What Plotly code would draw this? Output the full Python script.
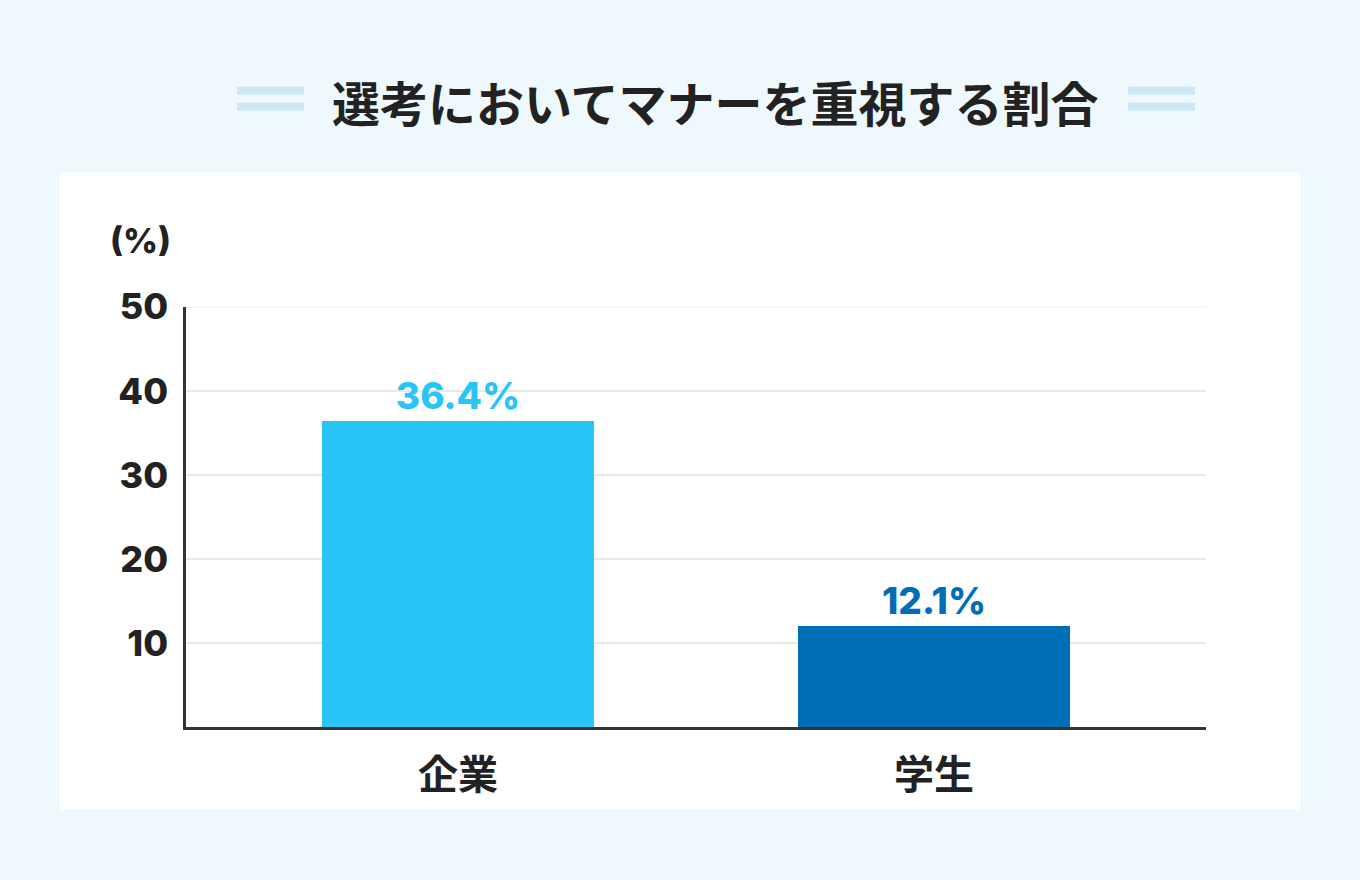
import plotly.graph_objects as go

# data
categories = ["企業", "学生"]
values = [36.4, 12.1]
bar_colors = ["#29c5f6", "#006db7"]
y_ticks = [10, 20, 30, 40, 50]
title_text = "選考においてマナーを重視する割合"

W, H = 1360, 880
BG = "#eff8fc"
DARK = "#222222"
GRID = "#e8e8e8"
NUM_FONT = "Inter, 'Noto Sans CJK JP', sans-serif"
JP_FONT = "'Noto Sans CJK JP', sans-serif"

# the page comes out a little squashed vertically (about 19px down, 0.979 tall),
# so positions are corrected for that here
Y_OFF, Y_SCALE = 19, 0.979


def px_x(x):
    return x / W


def px_y(y):
    return 1 - ((y - Y_OFF) / Y_SCALE) / H


fig = go.Figure()

fig.add_trace(go.Bar(
    x=categories,
    y=values,
    width=0.571,
    marker=dict(color=bar_colors, line=dict(width=0)),
    text=[f"{v}%" for v in values],
    textposition="outside",
    textfont=dict(family=NUM_FONT, size=37, color=bar_colors, weight=800),
    cliponaxis=False,
    hoverinfo="skip",
))

# white card behind the chart
card = dict(type="rect", xref="paper", yref="paper",
            x0=px_x(60), x1=px_x(1300), y0=px_y(810), y1=px_y(170),
            fillcolor="white", line=dict(width=0), layer="below")

# top gridline (plotly hides the one sitting on the range edge)
top_grid = dict(type="line", xref="x domain", yref="y",
                x0=0, x1=1, y0=y_ticks[-1], y1=y_ticks[-1],
                line=dict(color=GRID, width=1.5), layer="below")

# double lines next to the title
deco = []
for xa, xb in [(237, 304), (1128, 1195)]:
    for yy in [88, 104]:
        deco.append(dict(type="line", xref="paper", yref="paper",
                         x0=px_x(xa), x1=px_x(xb), y0=px_y(yy), y1=px_y(yy),
                         line=dict(color="#cce7f5", width=8)))

fig.update_layout(
    width=W, height=H,
    margin=dict(l=0, r=0, t=0, b=0),
    paper_bgcolor=BG,
    plot_bgcolor="white",
    showlegend=False,
    bargap=0,
    xaxis=dict(
        domain=[px_x(186), px_x(1206)],
        range=[-0.571, 1.571],
        showline=True, linecolor="#333333", linewidth=2.5,
        showgrid=False, ticks="",
        tickfont=dict(family=JP_FONT, size=40, color=DARK, weight="bold"),
        ticklabelstandoff=11,
        fixedrange=True,
    ),
    yaxis=dict(
        domain=[px_y(727), px_y(305)],
        range=[0, 50],
        tickvals=y_ticks,
        showline=True, linecolor="#333333", linewidth=2.5,
        showgrid=True, gridcolor=GRID, gridwidth=1.5,
        zeroline=False, ticks="",
        tickfont=dict(family=NUM_FONT, size=36, color=DARK, weight=800),
        ticklabelstandoff=8,
        fixedrange=True,
    ),
    shapes=[card, top_grid] + deco,
    annotations=[
        dict(text=title_text, xref="paper", yref="paper",
             x=px_x(715), y=px_y(98), xanchor="center", yanchor="middle",
             showarrow=False,
             font=dict(family=JP_FONT, size=48, color=DARK, weight="bold")),
        dict(text="(%)", xref="paper", yref="paper",
             x=px_x(140), y=px_y(238), xanchor="center", yanchor="middle",
             showarrow=False,
             font=dict(family=NUM_FONT, size=34, color=DARK, weight=800)),
    ],
)

fig.write_html(
    "out.html",
    config={"displayModeBar": False},
    post_script="document.body.style.margin='0';document.body.style.overflow='hidden';",
)
